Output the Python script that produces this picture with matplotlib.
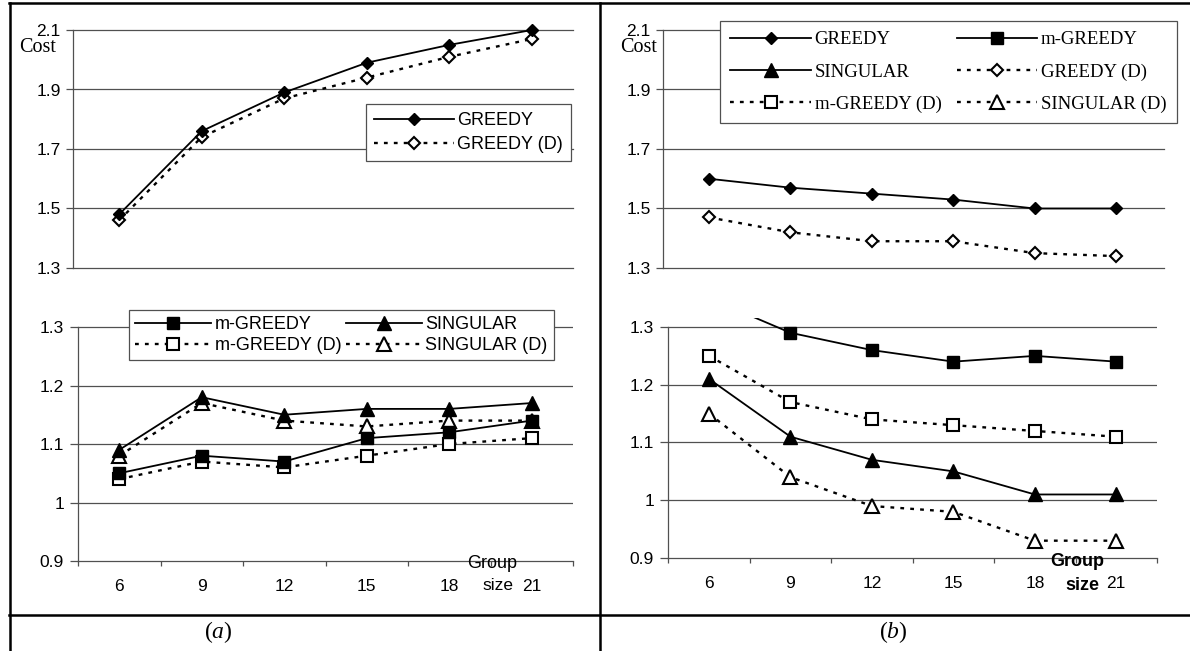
#!/usr/bin/env python3
"""
Cost vs group size, two panels with a broken y-axis (upper 1.3-2.1, lower 0.9-1.3).
"""

import matplotlib
matplotlib.use('Agg')
import matplotlib.pyplot as plt
from matplotlib.lines import Line2D

# Data
group_sizes = [6, 9, 12, 15, 18, 21]
xpos = [1, 2, 3, 4, 5, 6]

# panel (a)
a_greedy = [1.48, 1.76, 1.89, 1.99, 2.05, 2.10]
a_greedy_d = [1.46, 1.74, 1.87, 1.94, 2.01, 2.07]
a_mgreedy = [1.05, 1.08, 1.07, 1.11, 1.12, 1.14]
a_mgreedy_d = [1.04, 1.07, 1.06, 1.08, 1.10, 1.11]
a_singular = [1.09, 1.18, 1.15, 1.16, 1.16, 1.17]
a_singular_d = [1.08, 1.17, 1.14, 1.13, 1.14, 1.14]

# panel (b)
b_greedy = [1.60, 1.57, 1.55, 1.53, 1.50, 1.50]
b_greedy_d = [1.47, 1.42, 1.39, 1.39, 1.35, 1.34]
b_mgreedy = [1.35, 1.29, 1.26, 1.24, 1.25, 1.24]
b_mgreedy_d = [1.25, 1.17, 1.14, 1.13, 1.12, 1.11]
b_singular = [1.21, 1.11, 1.07, 1.05, 1.01, 1.01]
b_singular_d = [1.15, 1.04, 0.99, 0.98, 0.93, 0.93]

upper_ticks = [1.3, 1.5, 1.7, 1.9, 2.1]
upper_labels = ['1.3', '1.5', '1.7', '1.9', '2.1']
lower_ticks = [0.9, 1.0, 1.1, 1.2, 1.3]
lower_labels = ['0.9', '1', '1.1', '1.2', '1.3']

W, H = 1190, 651
GRID = '#505050'
SANS = 'Liberation Sans'
SERIF = 'Liberation Serif'
DOTS = (0, (1.6, 2.6))
TICK_FS = 12.5

plt.rcParams['mathtext.fontset'] = 'custom'
plt.rcParams['mathtext.it'] = 'Liberation Serif:italic'
plt.rcParams['mathtext.rm'] = 'Liberation Serif'

fig = plt.figure(figsize=(W / 100, H / 100), dpi=100)


def px_axes(left, top, right, bottom):
    return fig.add_axes([left / W, 1 - bottom / H, (right - left) / W, (bottom - top) / H])


def style(sty):
    """marker / line settings for one series"""
    base = dict(color='black', markeredgecolor='black', lw=1.3)
    if sty == 'greedy':
        base.update(marker='D', ms=6.5, markerfacecolor='black', ls='-')
    elif sty == 'greedy_d':
        base.update(marker='D', ms=6.5, markerfacecolor='white', ls=DOTS, lw=1.7, mew=1.5)
    elif sty == 'mgreedy':
        base.update(marker='s', ms=8.5, markerfacecolor='black', ls='-')
    elif sty == 'mgreedy_d':
        base.update(marker='s', ms=8, markerfacecolor='white', ls=DOTS, lw=1.7, mew=1.5)
    elif sty == 'singular':
        base.update(marker='^', ms=9.5, markerfacecolor='black', ls='-')
    elif sty == 'singular_d':
        base.update(marker='^', ms=9.5, markerfacecolor='white', ls=DOTS, lw=1.7, mew=1.5)
    return base


def setup_upper(ax, xl, xr, fs):
    ax.set_xlim(xl, xr)
    ax.set_ylim(1.3, 2.1)
    for s in ['top', 'right', 'bottom']:
        ax.spines[s].set_visible(False)
    ax.spines['left'].set_color(GRID)
    ax.spines['left'].set_linewidth(0.9)
    ax.set_xticks([])
    ax.set_yticks(upper_ticks)
    ax.set_yticklabels(upper_labels, fontsize=fs, family=SANS)
    ax.tick_params(axis='y', length=5, width=0.9, color=GRID, pad=4)
    for t in upper_ticks:
        ax.axhline(t, color=GRID, lw=0.9, clip_on=False, zorder=1)
    ax.patch.set_alpha(0)


def setup_lower(ax, xl, xr, ytop, fs):
    ax.set_xlim(xl, xr)
    ax.set_ylim(0.9, ytop)
    for s in ['top', 'right']:
        ax.spines[s].set_visible(False)
    ax.spines['left'].set_bounds(0.9, 1.3)
    for s in ['left', 'bottom']:
        ax.spines[s].set_color(GRID)
        ax.spines[s].set_linewidth(0.9)
    ax.set_yticks(lower_ticks)
    ax.set_yticklabels(lower_labels, fontsize=fs, family=SANS)
    ax.tick_params(axis='y', length=6, width=0.9, color=GRID, pad=4)
    for t in lower_ticks[1:]:
        ax.axhline(t, color=GRID, lw=0.9, zorder=1)
    ax.set_xticks([x + 0.5 for x in range(0, 7)])
    ax.set_xticklabels([])
    ax.tick_params(axis='x', which='major', length=3.5, width=0.9, color=GRID, direction='out')
    ax.set_xticks(xpos, minor=True)
    ax.set_xticklabels([str(g) for g in group_sizes], minor=True, fontsize=fs, family=SANS)
    ax.tick_params(axis='x', which='minor', length=0, pad=13)
    ax.patch.set_alpha(0)


# ---------- panel (a) ----------
ax_au = px_axes(73, 30, 573, 268)
setup_upper(ax_au, 0.442, 6.497, TICK_FS)
l1, = ax_au.plot(xpos, a_greedy, label='GREEDY', clip_on=False, zorder=4, **style('greedy'))
l2, = ax_au.plot(xpos, a_greedy_d, label='GREEDY (D)', clip_on=False, zorder=3, **style('greedy_d'))
leg = fig.legend(handles=[l1, l2], loc='upper left', bbox_to_anchor=(366 / W, 1 - 104 / H),
                 frameon=True, fancybox=False, edgecolor=GRID, framealpha=1,
                 prop={'family': SANS, 'size': 13}, handlelength=4.4, handletextpad=0.2,
                 borderpad=0.45, labelspacing=0.4, borderaxespad=0)
leg.get_frame().set_linewidth(0.9)

ax_al = px_axes(78, 318, 573, 561)
setup_lower(ax_al, 0.5, 6.5, 1.3 + 9 / 585, TICK_FS)
h1, = ax_al.plot(xpos, a_mgreedy, label='m-GREEDY', zorder=4, **style('mgreedy'))
h2, = ax_al.plot(xpos, a_mgreedy_d, label='m-GREEDY (D)', zorder=3, **style('mgreedy_d'))
h3, = ax_al.plot(xpos, a_singular, label='SINGULAR', zorder=4, **style('singular'))
h4, = ax_al.plot(xpos, a_singular_d, label='SINGULAR (D)', zorder=3, **style('singular_d'))
leg = fig.legend(handles=[h1, h2, h3, h4], ncol=2, loc='upper left',
                 bbox_to_anchor=(129 / W, 1 - 310 / H),
                 frameon=True, fancybox=False, edgecolor=GRID, framealpha=1,
                 prop={'family': SANS, 'size': 13}, handlelength=4.2, handletextpad=0.2,
                 borderpad=0.35, labelspacing=0.2, columnspacing=0.25, borderaxespad=0)
leg.get_frame().set_linewidth(0.9)
leg.set_zorder(10)

fig.text(492 / W, 1 - 563 / H, 'Group', ha='center', va='center', family=SANS, fontsize=13)
fig.text(498 / W, 1 - 586 / H, 'size', ha='center', va='center', family=SANS, fontsize=12.5)
fig.text(38 / W, 1 - 47 / H, 'Cost', ha='center', va='center', family=SERIF, fontsize=14.5)

# ---------- panel (b) ----------
ax_bu = px_axes(663, 30, 1164, 268)
setup_upper(ax_bu, 0.435, 6.59, TICK_FS)
g1, = ax_bu.plot(xpos, b_greedy, label='GREEDY', clip_on=False, zorder=4, **style('greedy'))
g2, = ax_bu.plot(xpos, b_greedy_d, label='GREEDY (D)', clip_on=False, zorder=3, **style('greedy_d'))

ax_bl = px_axes(668, 318, 1157, 558)
setup_lower(ax_bl, 0.496, 6.5, 1.3 + 9 / 577.5, TICK_FS)
m1, = ax_bl.plot(xpos, b_mgreedy, label='m-GREEDY', zorder=4, **style('mgreedy'))
m2, = ax_bl.plot(xpos, b_mgreedy_d, label='m-GREEDY (D)', zorder=3, **style('mgreedy_d'))
s1, = ax_bl.plot(xpos, b_singular, label='SINGULAR', zorder=4, **style('singular'))
s2, = ax_bl.plot(xpos, b_singular_d, label='SINGULAR (D)', zorder=3, **style('singular_d'))

leg = fig.legend(handles=[g1, s1, m2, m1, g2, s2], ncol=2, loc='upper left',
                 bbox_to_anchor=(720 / W, 1 - 21 / H),
                 frameon=True, fancybox=False, edgecolor=GRID, framealpha=1,
                 prop={'family': SERIF, 'size': 13.5}, handlelength=4.3, handletextpad=0.2,
                 borderpad=0.55, labelspacing=0.8, columnspacing=0.8, borderaxespad=0)
leg.get_frame().set_linewidth(0.9)

fig.text(1077 / W, 1 - 562 / H, 'Group', ha='center', va='center', family=SANS,
         fontsize=13, fontweight='bold')
fig.text(1082 / W, 1 - 586 / H, 'size', ha='center', va='center', family=SANS,
         fontsize=13, fontweight='bold')
fig.text(639 / W, 1 - 47 / H, 'Cost', ha='center', va='center', family=SERIF, fontsize=14.5)

# ---------- frame and captions ----------
frame = dict(color='black', lw=1.8, transform=fig.transFigure, clip_on=False)
fig.add_artist(Line2D([9 / W, 1], [1 - 3 / H, 1 - 3 / H], **frame))
fig.add_artist(Line2D([9.5 / W, 9.5 / W], [0, 1 - 3 / H], **frame))
fig.add_artist(Line2D([599.5 / W, 599.5 / W], [0, 1 - 3 / H], **frame))
fig.add_artist(Line2D([9 / W, 1], [1 - 615 / H, 1 - 615 / H], **frame))

fig.text(218 / W, 1 - 632 / H, r'($a$)', ha='center', va='center', family=SERIF, fontsize=17)
fig.text(893 / W, 1 - 632 / H, r'($b$)', ha='center', va='center', family=SERIF, fontsize=17)

fig.savefig('out.png', dpi=100)
